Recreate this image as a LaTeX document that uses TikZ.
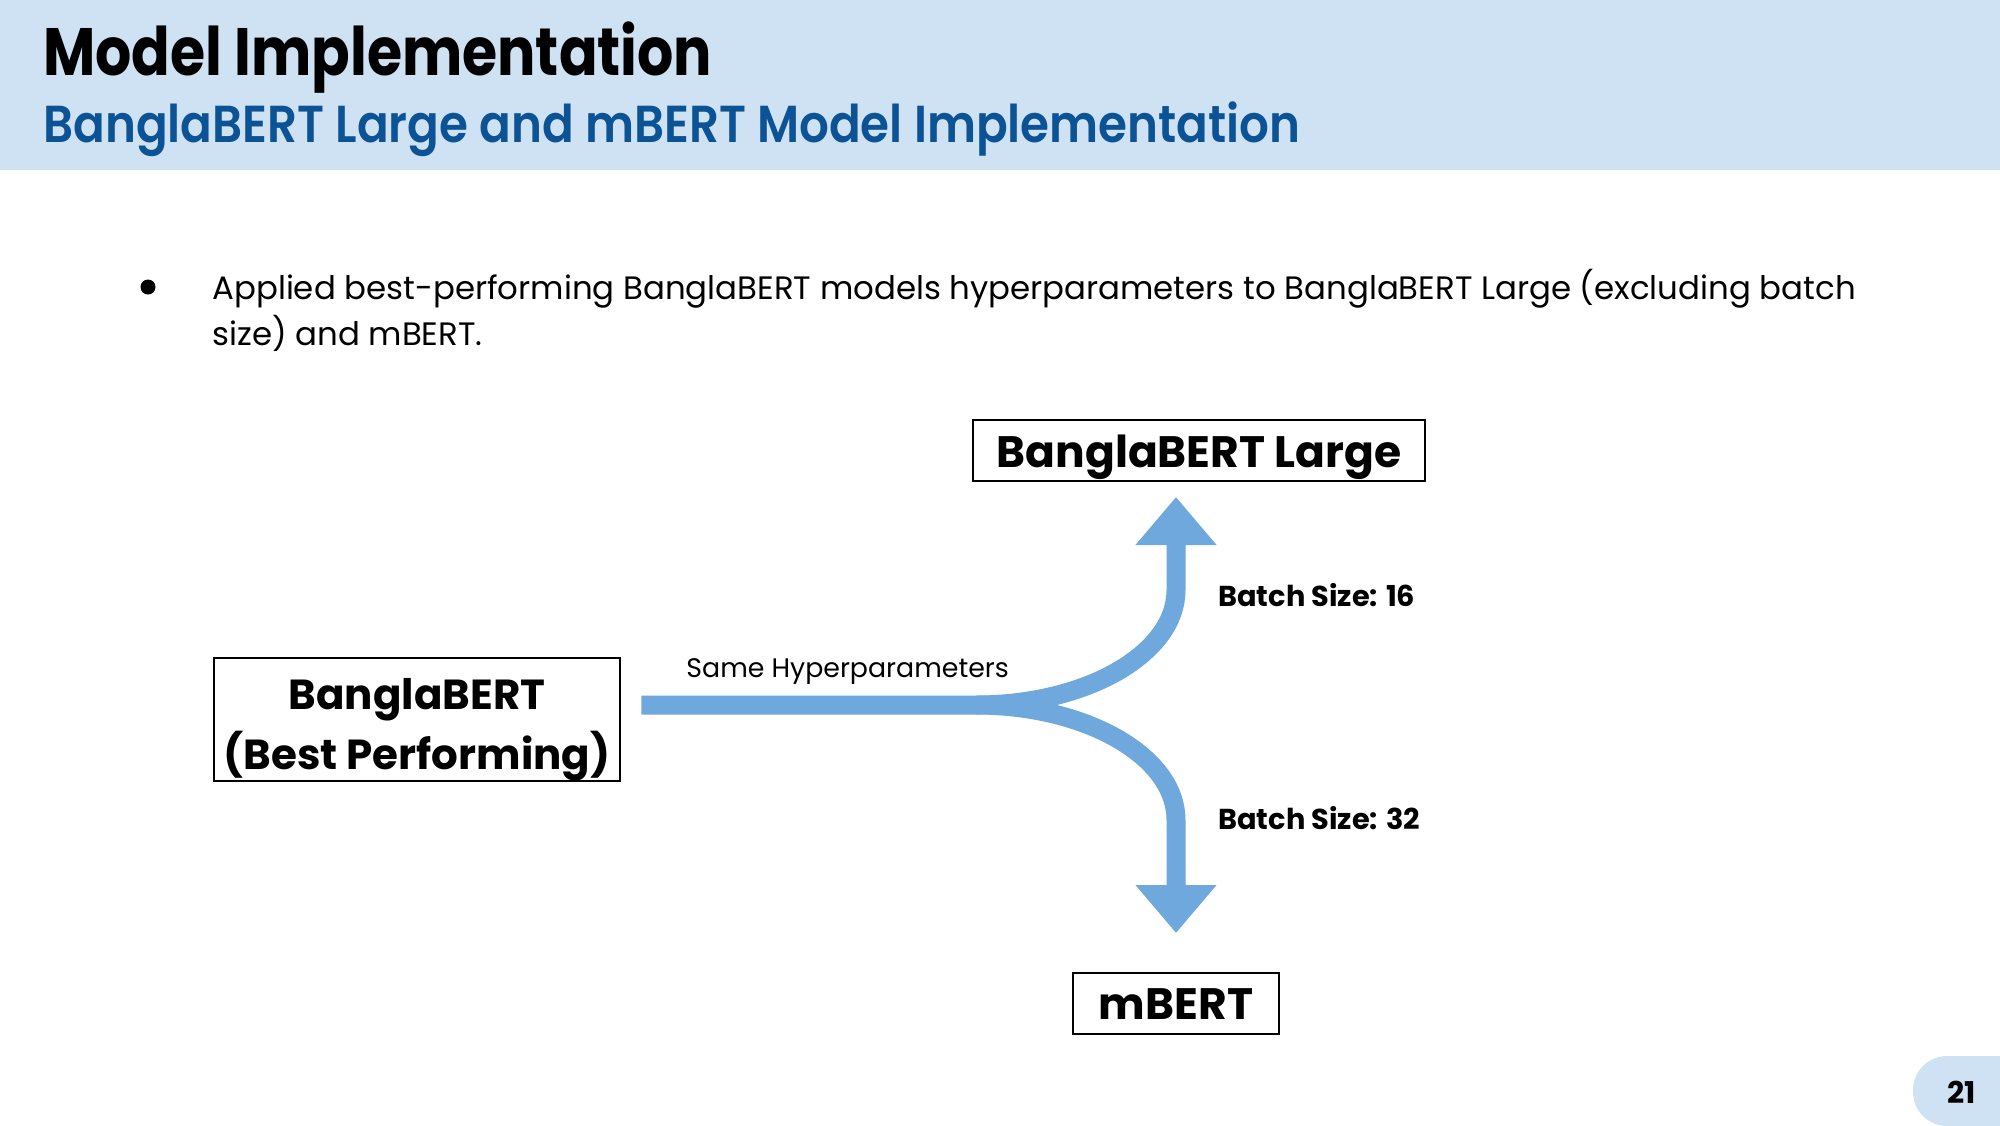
\documentclass[tikz,border=0pt]{standalone}
\usepackage{fontspec}
\setmainfont{Poppins}
\newfontfamily\titlefont{Poppins}[FakeStretch=0.85]
\IfFontExistsTF{Poppins SemiBold}
  {\newfontfamily\subfont{Poppins SemiBold}[FakeStretch=0.9]}
  {\newfontfamily\subfont{Poppins}[FakeStretch=0.89,UprightFont=*-Bold]}
\usetikzlibrary{arrows.meta}
\definecolor{headbg}{HTML}{CFE2F3}
\definecolor{subblue}{HTML}{0B5394}
\definecolor{flowblue}{HTML}{6FA8DC}
\tikzset{
  txt/.style={inner sep=0pt, anchor=base west},
  box/.style={draw=black, line width=1.3pt, inner sep=0pt, font=\bfseries\fontsize{22}{30}\selectfont, align=center},
  flow/.style={draw=flowblue, line width=9.5pt, -{Triangle[width=39pt,length=24pt]}},
  lbl/.style={inner sep=0pt, anchor=base west, font=\bfseries\fontsize{14.4}{18}\selectfont}
}
\begin{document}
\begin{tikzpicture}[x=0.5pt,y=-0.5pt]
\useasboundingbox (0,0) rectangle (2000,1125);
% header band
\fill[headbg] (0,0) rectangle (2000,170);
\node[txt, font=\titlefont\bfseries\fontsize{33.5}{36}\selectfont] (title) at (43,75) {Model Implementation};
\node[txt, font=\subfont\fontsize{26}{30}\selectfont, text=subblue] (subtitle) at (43,142) {BanglaBERT Large and mBERT Model Implementation};
% bullet
\fill (148,287) circle[radius=7.5];
\node[txt, font=\fontsize{16.2}{22}\selectfont] (b1) at (212,299) {Applied best-performing BanglaBERT models hyperparameters to BanglaBERT Large (excluding batch};
\node[txt, font=\fontsize{16.2}{22}\selectfont] (b2) at (212,345) {size) and mBERT.};
% boxes
\node[box, minimum width=226pt, minimum height=30.5pt, text height=17.2pt, text depth=0pt] (large) at (1199,450.5) {BanglaBERT Large};
\node[box, font=\bfseries\fontsize{21}{30}\selectfont, minimum width=203pt, minimum height=61.5pt] (src) at (417,719.5) {\raisebox{0pt}[50pt][0pt]{\begin{tabular}[b]{@{}c@{}}BanglaBERT\\(Best Performing)\end{tabular}}};
\node[box, minimum width=103pt, minimum height=30.5pt, text height=16.4pt, text depth=0pt] (mbert) at (1176,1003.5) {mBERT};
% connectors
\coordinate (split) at (976,705);
\coordinate (upbend) at (1176,590);
\coordinate (uptip) at (1176,497);
\coordinate (dnbend) at (1176,820);
\coordinate (dntip) at (1176,933);
\draw[flow] ([xshift=10pt]src.east |- split) -- (split) .. controls (1086.5,705) and (1176,653.5) .. (upbend) -- (uptip);
\draw[flow] (split) .. controls (1086.5,705) and (1176,756.5) .. (dnbend) -- (dntip);
% labels
\node[txt, font=\fontsize{13.4}{16}\selectfont] (same) at (686,677) {Same Hyperparameters};
\node[lbl] (bs16) at (1218,606) {Batch Size: 16};
\node[lbl] (bs32) at (1218,829) {Batch Size: 32};
% page number
\begin{scope}
\clip (0,0) rectangle (2000,1125);
\fill[headbg, rounded corners=17pt] (1913,1056) rectangle (2080,1126);
\end{scope}
\node[inner sep=0pt, font=\bfseries\fontsize{15}{18}\selectfont] (page) at (1962,1092) {21};
\end{tikzpicture}
\end{document}
